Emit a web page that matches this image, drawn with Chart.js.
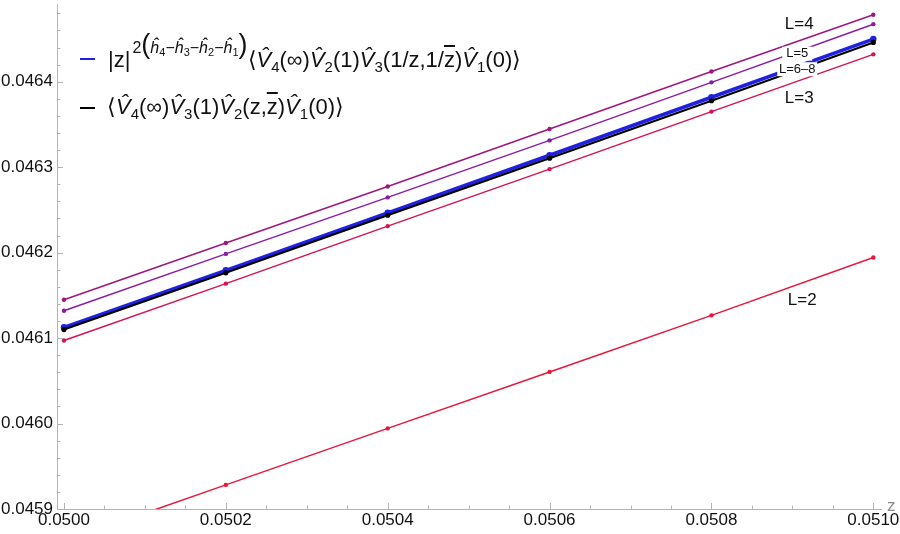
<!DOCTYPE html>
<html><head><meta charset="utf-8">
<script src="https://cdn.jsdelivr.net/npm/chart.js@4.4.1/dist/chart.umd.min.js"></script>
<style>
html,body{margin:0;padding:0;background:#fff;}
#wrap{position:relative;width:900px;height:534px;overflow:hidden;}
#c{position:absolute;left:0;top:0;}
.dash{position:absolute;width:15px;height:2px;}
.leg{position:absolute;font-family:"Liberation Sans",Arial,sans-serif;font-size:22px;line-height:26px;color:#111;white-space:nowrap;}
.leg i{font-style:italic;}
.leg sub{font-size:15px;vertical-align:-5px;line-height:0;}
.sup{font-size:16px;position:relative;top:-14px;margin-left:2px;}
.sup sub{font-size:11px;vertical-align:-3px;}
.bp{font-size:27px;font-weight:normal;}
.ov{text-decoration:overline;}
</style></head>
<body>
<div id="wrap">
<canvas id="c" width="900" height="534"></canvas>
<div class="dash" style="left:80px;top:58px;background:#2020e0"></div>
<div class="leg" style="left:108px;top:45px;">|z|<span class="sup">2<span class="bp">(</span><i>ĥ</i><sub>4</sub>−<i>ĥ</i><sub>3</sub>−<i>ĥ</i><sub>2</sub>−<i>ĥ</i><sub>1</sub><span class="bp">)</span></span>⟨<i>V̂</i><sub>4</sub>(∞)<i>V̂</i><sub>2</sub>(1)<i>V̂</i><sub>3</sub>(1/z,1/<span class="ov">z</span>)<i>V̂</i><sub>1</sub>(0)⟩</div>
<div class="dash" style="left:80px;top:107px;background:#000"></div>
<div class="leg" style="left:107px;top:94px;">⟨<i>V̂</i><sub>4</sub>(∞)<i>V̂</i><sub>3</sub>(1)<i>V̂</i><sub>2</sub>(z,<span class="ov">z</span>)<i>V̂</i><sub>1</sub>(0)⟩</div>
</div>
<script>
const xVals = [0.0500, 0.0502, 0.0504, 0.0506, 0.0508, 0.0510];
const seriesL2 = [0.0458620, 0.0459282, 0.0459943, 0.0460604, 0.0461266, 0.0461942];
const seriesL3 = [0.0460972, 0.0461637, 0.0462310, 0.0462977, 0.0463650, 0.0464320];
const seriesL4 = [0.0461448, 0.0462113, 0.0462774, 0.0463447, 0.0464119, 0.0464784];
const seriesL5 = [0.0461320, 0.0461985, 0.0462646, 0.0463313, 0.0463992, 0.0464673];
const seriesBlue = [0.0461126, 0.0461793, 0.0462466, 0.0463139, 0.0463818, 0.0464499];
const seriesBlack = [0.0461100, 0.0461764, 0.0462437, 0.0463104, 0.0463777, 0.0464459];
const xTicks = [0.0500, 0.0502, 0.0504, 0.0506, 0.0508, 0.0510];
const xTickLabels = ['0.0500', '0.0502', '0.0504', '0.0506', '0.0508', '0.0510'];
const yTicks = [0.0459, 0.0460, 0.0461, 0.0462, 0.0463, 0.0464];
const yTickLabels = ['0.0459', '0.0460', '0.0461', '0.0462', '0.0463', '0.0464'];
const curveNames = ['L=4', 'L=5', 'L=6\u20138', 'L=3', 'L=2'];
const curveNameX = [0.0509085, 0.0509060, 0.0509060, 0.0509085, 0.0509122];
const curveNameY = [0.0464668, 0.0464328, 0.0464146, 0.0463806, 0.0461440];

const annStyle = [
  {size:17, bg:false}, {size:13, bg:true, w:30}, {size:13, bg:true, w:40}, {size:17, bg:false}, {size:17, bg:false}
];
const pts = arr => arr.map((v, i) => ({x: xVals[i], y: v}));
const AX = '#b4b4b4';

const tickPlugin = {
  id: 'mtk',
  afterDraw(chart) {
    const ctx = chart.ctx, xs = chart.scales.x, ys = chart.scales.y, ca = chart.chartArea;
    ctx.save();
    ctx.strokeStyle = AX; ctx.lineWidth = 1;
    for (let k = 0; k <= 20; k++) {
      const v = 0.0500 + k * 0.00005;
      const px = Math.round(xs.getPixelForValue(v)) + 0.5;
      const len = (k % 4 === 0) ? 6 : 3.5;
      ctx.beginPath(); ctx.moveTo(px, ca.bottom); ctx.lineTo(px, ca.bottom - len); ctx.stroke();
    }
    for (let k = 0; k <= 29; k++) {
      const v = 0.0459 + k * 0.00002;
      const py = Math.round(ys.getPixelForValue(v)) + 0.5;
      const len = (k % 5 === 0) ? 6 : 3.5;
      ctx.beginPath(); ctx.moveTo(ca.left, py); ctx.lineTo(ca.left + len, py); ctx.stroke();
    }
    ctx.fillStyle = '#8a8a8a';
    ctx.font = '17px "Liberation Sans", Arial, sans-serif';
    ctx.textAlign = 'left'; ctx.textBaseline = 'middle';
    ctx.fillText('z', ca.right + 6, ca.bottom - 3);
    ctx.restore();
  },
  afterDatasetsDraw(chart) {
    const ctx = chart.ctx, xs = chart.scales.x, ys = chart.scales.y;
    ctx.save();
    ctx.textAlign = 'center'; ctx.textBaseline = 'middle';
    curveNames.forEach((t, i) => {
      const st = annStyle[i];
      const px = xs.getPixelForValue(curveNameX[i]);
      const py = ys.getPixelForValue(curveNameY[i]);
      ctx.font = st.size + 'px "Liberation Sans", Arial, sans-serif';
      if (st.bg) {
        ctx.fillStyle = '#fff';
        ctx.fillRect(px - st.w / 2, py - 7, st.w, 14);
      }
      ctx.fillStyle = '#111';
      ctx.fillText(t, px, py);
    });
    ctx.restore();
  }
};

new Chart(document.getElementById('c'), {
  type: 'line',
  data: {
    datasets: [
      {data: pts(seriesBlack), borderColor: '#000', backgroundColor: '#000', borderWidth: 2, pointRadius: 2.6, pointBorderWidth: 0},
      {data: pts(seriesBlue), borderColor: '#2020e0', backgroundColor: '#2020e0', borderWidth: 3.5, pointRadius: 3.2, pointBorderWidth: 0},
      {data: pts(seriesL4), borderColor: '#a0167e', backgroundColor: '#a0167e', borderWidth: 1.5, pointRadius: 2.2, pointBorderWidth: 0},
      {data: pts(seriesL5), borderColor: '#8a1ca4', backgroundColor: '#8a1ca4', borderWidth: 1.5, pointRadius: 2.2, pointBorderWidth: 0},
      {data: pts(seriesL3), borderColor: '#d21455', backgroundColor: '#d21455', borderWidth: 1.5, pointRadius: 2.2, pointBorderWidth: 0},
      {data: pts(seriesL2), borderColor: '#e6173c', backgroundColor: '#e6173c', borderWidth: 1.5, pointRadius: 2.2, pointBorderWidth: 0}
    ]
  },
  options: {
    responsive: false,
    animation: false,
    layout: {padding: {top: 0, right: 19, left: 0, bottom: 0}},
    plugins: {legend: {display: false}, tooltip: {enabled: false}},
    elements: {line: {tension: 0}},
    scales: {
      x: {
        type: 'linear', min: 0.0499914, max: 0.0510095,
        afterBuildTicks: s => { s.ticks = xTicks.map(v => ({value: v})); },
        afterFit: s => { s.height = 25; s.paddingLeft = 0; s.paddingRight = 0; },
        ticks: {callback: (v, i) => xTickLabels[i], font: {size: 17, family: '"Liberation Sans", Arial, sans-serif'}, color: '#111', padding: 1, maxRotation: 0, autoSkip: false},
        grid: {display: false, drawTicks: false},
        border: {display: true, color: AX, width: 1}
      },
      y: {
        type: 'linear', min: 0.0459, max: 0.0464909,
        afterBuildTicks: s => { s.ticks = yTicks.map(v => ({value: v})); },
        afterFit: s => { s.width = 57; s.paddingTop = 0; s.paddingBottom = 0; },
        ticks: {callback: (v, i) => yTickLabels[i], font: {size: 17, family: '"Liberation Sans", Arial, sans-serif'}, color: '#111', padding: 4, autoSkip: false},
        grid: {display: false, drawTicks: false},
        border: {display: true, color: AX, width: 1}
      }
    }
  },
  plugins: [tickPlugin]
});
</script>
</body></html>
